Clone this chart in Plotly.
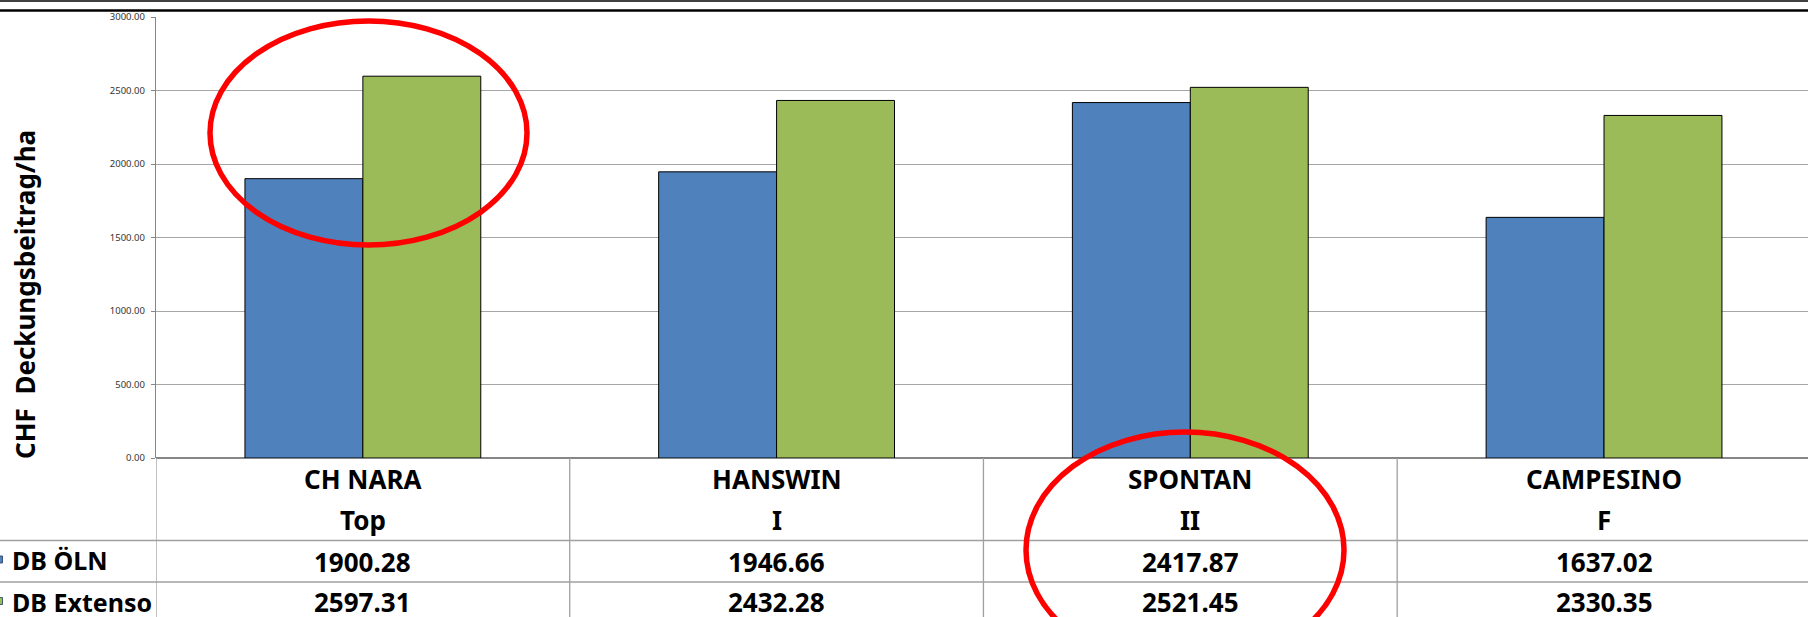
import plotly.graph_objects as go

# ---- data ----
categories = ["CH NARA", "HANSWIN", "SPONTAN", "CAMPESINO"]
subtitles = ["Top", "I", "II", "F"]
series_names = ["DB ÖLN", "DB Extenso"]
db_oeln = [1900.28, 1946.66, 2417.87, 1637.02]
db_extenso = [2597.31, 2432.28, 2521.45, 2330.35]
y_ticks = [0, 500, 1000, 1500, 2000, 2500, 3000]
y_title = "CHF  Deckungsbeitrag/ha"

# ---- layout geometry (pixels) ----
W, H = 1808, 617
L, T, B = 156, 17, 159
PW = W - L
PH = H - T - B
Y0 = T + PH  # pixel of y=0


def px(X):
    return (X - L) / PW


def py(Y):
    return (Y0 - Y) / PH


colors = ["#4f81bd", "#9bbb59"]
FONT = "Noto Sans"
xs = list(range(len(categories)))

fig = go.Figure()
for name, vals, col in zip(series_names, [db_oeln, db_extenso], colors):
    fig.add_trace(go.Bar(x=xs, y=vals, name=name, marker=dict(color=col, line=dict(color="#000000", width=1)),
                         showlegend=False))

shapes = []
# top double rule
shapes.append(dict(type="line", xref="paper", yref="paper", x0=px(0), x1=1, y0=py(1), y1=py(1),
                   line=dict(color="#000000", width=1.5)))
shapes.append(dict(type="line", xref="paper", yref="paper", x0=px(0), x1=1, y0=py(10.5), y1=py(10.5),
                   line=dict(color="#000000", width=2.5)))
# table horizontal lines
for Yl in [540.5, 582]:
    shapes.append(dict(type="line", xref="paper", yref="paper", x0=px(0), x1=1, y0=py(Yl), y1=py(Yl),
                       line=dict(color="#a0a0a0", width=1.3)))
# table vertical lines at category boundaries
for i in range(len(categories)):
    shapes.append(dict(type="line", xref="x", yref="paper", x0=i - 0.5, x1=i - 0.5, y0=0, y1=py(H + 2),
                       line=dict(color="#a0a0a0", width=1.3)))
# legend keys
for Yc, col in zip([559.5, 601], colors):
    shapes.append(dict(type="rect", xref="paper", yref="paper", x0=px(-4), x1=px(2.5), y0=py(Yc + 3.5),
                       y1=py(Yc - 3.5), fillcolor=col, line=dict(color="#1f3a5f", width=0.8)))
# red ellipses
for (x0, x1, y0, y1) in [(210, 527, 21, 245), (1026, 1344, 432, 668)]:
    shapes.append(dict(type="circle", xref="paper", yref="paper", x0=px(x0), x1=px(x1), y0=py(y1), y1=py(y0),
                       line=dict(color="#ff0000", width=5.5), fillcolor="rgba(0,0,0,0)", layer="above"))

annotations = []
tf = dict(family=FONT, size=26, color="#000000")
for i, (c, s, a, b) in enumerate(zip(categories, subtitles, db_oeln, db_extenso)):
    for Yc, txt in [(478.5, c), (520, s), (561.5, f"{a:.2f}"), (602, f"{b:.2f}")]:
        annotations.append(dict(x=i, xref="x", y=py(Yc), yref="paper", text=f"<b>{txt}</b>", showarrow=False,
                                xanchor="center", yanchor="middle", font=tf))
for Yc, name in zip([559.5, 601.5], series_names):
    annotations.append(dict(x=px(10), xref="paper", y=py(Yc), yref="paper", text=f"<b>{name}</b>", showarrow=False,
                            xanchor="left", yanchor="middle", font=dict(family=FONT, size=25, color="#000000")))
annotations.append(dict(x=px(25), xref="paper", y=py(295), yref="paper", text=f"<b>{y_title}</b>",
                        showarrow=False, textangle=-90, xanchor="center", yanchor="middle",
                        font=dict(family=FONT, size=26, color="#000000")))

fig.update_layout(
    width=W, height=H,
    margin=dict(l=L, r=0, t=T, b=B, autoexpand=False),
    paper_bgcolor="#ffffff", plot_bgcolor="#ffffff",
    barmode="group", bargap=0.43, bargroupgap=0,
    shapes=shapes, annotations=annotations,
    showlegend=False,
    font=dict(family=FONT),
)
fig.update_xaxes(range=[-0.5, len(categories) - 0.507], showticklabels=False, ticks="", showgrid=False,
                 zeroline=False, showline=False, fixedrange=True)
fig.update_yaxes(range=[0, 3000], tickvals=y_ticks, tickformat=".2f", ticks="outside", ticklen=4,
                 tickcolor="#868686", showline=True, linecolor="#868686", linewidth=1.3,
                 gridcolor="#a6a6a6", gridwidth=1.3, zeroline=True, zerolinecolor="#868686", zerolinewidth=1.5,
                 tickfont=dict(family=FONT, size=9.5, color="#333333"), ticklabelstandoff=4, fixedrange=True)

fig.write_html("out.html", config={"displayModeBar": False},
               post_script="document.body.style.margin='0';document.body.style.overflow='hidden';")
